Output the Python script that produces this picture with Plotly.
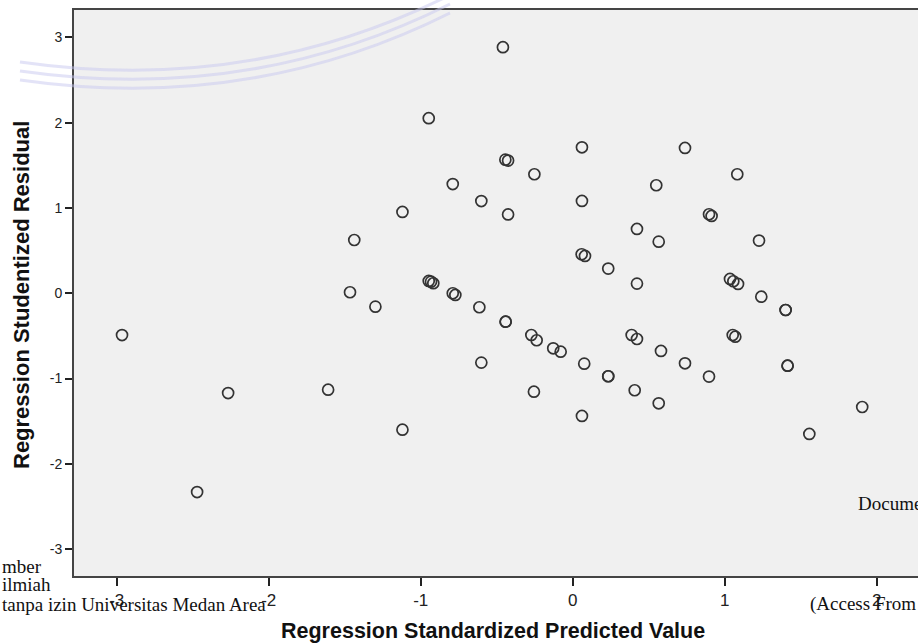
import plotly.graph_objects as go

pred_x = [
    -2.965, -2.471, -2.267, -1.609, -1.437, -1.465, -1.298, -1.120, -1.120,
    -0.947, -0.947, -0.932, -0.917, -0.789, -0.789, -0.772, -0.614, -0.601,
    -0.601, -0.459, -0.443, -0.425, -0.425, -0.441, -0.441, -0.252, -0.255,
    -0.272, -0.237, -0.128, -0.079, 0.061, 0.061, 0.059, 0.081, 0.076,
    0.061, 0.234, 0.234, 0.234, 0.423, 0.423, 0.408, 0.388, 0.423,
    0.550, 0.566, 0.581, 0.566, 0.739, 0.739, 1.083, 0.897, 0.914,
    0.897, 1.035, 1.057, 1.088, 1.053, 1.070, 1.226, 1.241, 1.401,
    1.401, 1.414, 1.414, 1.557, 1.905,
]
resid_y = [
    -0.490, -2.330, -1.170, -1.130, 0.624, 0.012, -0.157, 0.953, -1.599,
    2.052, 0.144, 0.136, 0.117, 1.280, 0.000, -0.020, -0.164, 1.081,
    -0.813, 2.884, 1.566, 1.555, 0.924, -0.333, -0.333, 1.395, -1.154,
    -0.489, -0.551, -0.645, -0.685, 1.711, 1.082, 0.457, 0.437, -0.825,
    -1.438, 0.289, -0.973, -0.973, 0.754, 0.113, -1.137, -0.489, -0.536,
    1.266, 0.605, -0.676, -1.290, 1.703, -0.821, 1.395, 0.926, 0.906,
    -0.977, 0.168, 0.141, 0.109, -0.489, -0.509, 0.617, -0.040, -0.196,
    -0.196, -0.849, -0.849, -1.649, -1.333,
]
x_ticks = [-3, -2, -1, 0, 1, 2]
y_ticks = [-3, -2, -1, 0, 1, 2, 3]

W, H = 918, 644
L, R, T, B = 74, 0, 10, 68

def px(xp):
    return (xp - L) / (W - L - R)

def py(yp):
    return (H - B - yp) / (H - T - B)

fig = go.Figure()
fig.add_trace(go.Scatter(
    x=pred_x, y=resid_y, mode="markers",
    marker=dict(symbol="circle-open", size=11, color="#333333",
                line=dict(width=1.7, color="#333333")),
    hoverinfo="x+y", showlegend=False,
))

shapes = []
# faint watermark swooshes (logo) at top-left
for off in (0, 9, 18):
    p0 = (20, 62 + off)
    c = (250, 95 + off)
    p1 = (450, -5 + off)
    path = "M {:.4f},{:.4f} Q {:.4f},{:.4f} {:.4f},{:.4f}".format(
        px(p0[0]), py(p0[1]), px(c[0]), py(c[1]), px(p1[0]), py(p1[1]))
    shapes.append(dict(type="path", path=path, xref="paper", yref="paper",
                       line=dict(color="rgba(200,200,240,0.5)", width=3),
                       layer="above"))

annotations = [
    dict(text="<b>Regression Standardized Predicted Value</b>", x=px(493), y=py(631),
         xref="paper", yref="paper", showarrow=False, xanchor="center", yanchor="middle",
         font=dict(family="Liberation Sans Narrow, Arial Narrow, Liberation Sans", size=21.5, color="#111")),
    dict(text="<b>Regression Studentized Residual</b>", x=px(21), y=py(295),
         xref="paper", yref="paper", showarrow=False, textangle=-90,
         xanchor="center", yanchor="middle",
         font=dict(family="Liberation Sans, Arial", size=22, color="#111")),
]
serif = dict(family="Liberation Serif, DejaVu Serif", size=19, color="#111")
for txt, xx, yy in [
    ("mber", 0, 566),
    ("ilmiah", 0, 585),
    ("tanpa izin Universitas Medan Area", 0, 604),
    ("(Access From", 808, 604),
    ("Document", 856, 503),
]:
    annotations.append(dict(text=txt, x=px(xx), y=py(yy), xref="paper", yref="paper",
                            showarrow=False, xanchor="left", yanchor="middle", font=serif))

fig.update_layout(
    width=W, height=H,
    margin=dict(l=L, r=R, t=T, b=B, pad=0),
    paper_bgcolor="white", plot_bgcolor="#f0f0f0",
    shapes=shapes, annotations=annotations,
    xaxis=dict(range=[-3.281, 2.272], tickvals=x_ticks, ticktext=[str(v) for v in x_ticks],
               showgrid=False, zeroline=False, showline=True, linecolor="#454545",
               linewidth=2, mirror=True, ticks="outside", ticklen=8, tickwidth=1.5,
               tickcolor="#222",
               tickfont=dict(family="Liberation Sans Narrow, Arial Narrow, Liberation Sans", size=17, color="#222")),
    yaxis=dict(range=[-3.314, 3.32], tickvals=y_ticks, ticktext=[str(v) for v in y_ticks],
               showgrid=False, zeroline=False, showline=True, linecolor="#454545",
               linewidth=2, ticks="outside", ticklen=7, tickwidth=1.5, tickcolor="#222",
               tickfont=dict(family="Liberation Sans, Arial", size=14, color="#222")),
)

fig.write_html("out.html", config={"displayModeBar": False},
               post_script="document.body.style.margin='0';")
